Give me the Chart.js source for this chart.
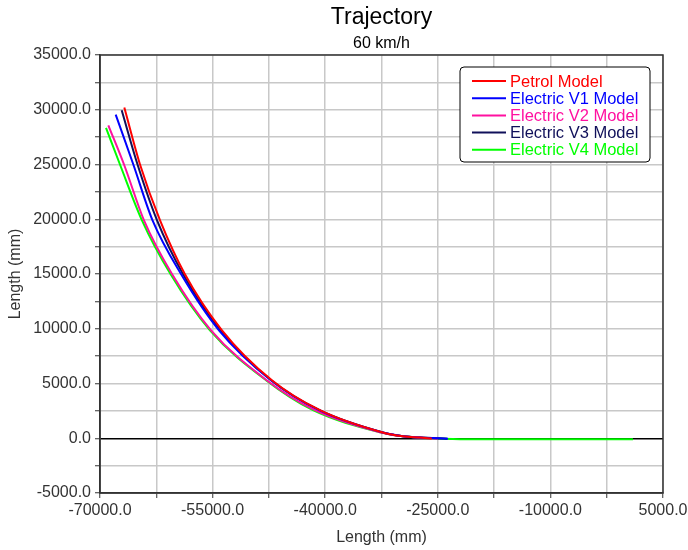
<!DOCTYPE html>
<html>
<head>
<meta charset="utf-8">
<script src="https://cdn.jsdelivr.net/npm/chart.js@4.4.0/dist/chart.umd.min.js"></script>
<style>
  html, body { margin: 0; padding: 0; background: #fff; }
  #wrap { width: 688px; height: 550px; }
</style>
</head>
<body>
<div id="wrap"><canvas id="trajChart" width="688" height="550"></canvas></div>
<script>
// Values (mm)
const seriesNames = ['Petrol Model', 'Electric V1 Model', 'Electric V2 Model', 'Electric V3 Model', 'Electric V4 Model'];
const seriesColors = ['#ff0000', '#0000ff', '#ff10a0', '#10105a', '#00ff00'];

const petrolX = [-66760, -64670, -62000, -58700, -53750, -47100, -40700, -32440, -29640, -27380, -25800];
const petrolY = [30200, 25000, 19900, 15000, 9860, 5300, 2560, 550, 180, 60, -30];

const v1X = [-67910, -65560, -63000, -59210, -54150, -47220, -40830, -32440, -29640, -27380, -23650];
const v1Y = [29560, 25000, 19900, 15000, 9860, 5300, 2560, 550, 180, 60, -40];

const v2X = [-68890, -66800, -64140, -60410, -55210, -47800, -41360, -32700, -29640, -27380, -25000];
const v2Y = [28580, 25000, 19900, 15000, 9860, 5300, 2560, 550, 180, 60, -40];

const v3X = [-67110, -65000, -62400, -58950, -53950, -47200, -40750, -32440, -29640, -27380, -23780];
const v3Y = [29950, 25000, 19900, 15000, 9860, 5300, 2560, 550, 180, 60, -40];

const v4X = [-69200, -67340, -64410, -60610, -55350, -47890, -41630, -32700, -29640, -27380, -22000, 1000];
const v4Y = [28340, 25000, 19900, 15000, 9860, 5300, 2560, 550, 180, 60, -80, -80];

const xTickMin = -70000, xTickMax = 5000, xStep = 7500, xLabelStep = 15000;
const yTickMin = -5000, yTickMax = 35000, yStep = 2500, yLabelStep = 5000;

const allX = [petrolX, v1X, v2X, v3X, v4X];
const allY = [petrolY, v1Y, v2Y, v3Y, v4Y];

const FONT = "'Liberation Sans', Arial, sans-serif";

function toPoints(xs, ys) {
    return xs.map((x, i) => ({ x: x, y: ys[i] }));
}

const datasets = seriesNames.map((name, i) => ({
    label: name,
    data: toPoints(allX[i], allY[i]),
    borderColor: seriesColors[i],
    backgroundColor: seriesColors[i],
    borderWidth: 2,
    pointRadius: 0,
    showLine: true,
    fill: false,
    cubicInterpolationMode: 'monotone'
}));

// Titles, frame and the boxed legend inside the plot
const decorPlugin = {
    id: 'decor',
    afterDraw(chart) {
        const ctx = chart.ctx;
        const a = chart.chartArea;
        ctx.save();

        // frame
        ctx.strokeStyle = '#333';
        ctx.lineWidth = 1.5;
        ctx.strokeRect(a.left, a.top, a.right - a.left, a.bottom - a.top);

        // title + subtitle centred on the plot
        const cx = (a.left + a.right) / 2;
        ctx.fillStyle = '#000';
        ctx.textAlign = 'center';
        ctx.textBaseline = 'alphabetic';
        ctx.font = '23px ' + FONT;
        ctx.fillText('Trajectory', cx, 24);
        ctx.font = '16px ' + FONT;
        ctx.fillText('60 km/h', cx, 48);

        // legend
        const bw = 190, bh = 95;
        const bx = a.right - 13 - bw, by = a.top + 12;
        ctx.beginPath();
        ctx.roundRect(bx, by, bw, bh, 4);
        ctx.fillStyle = '#fff';
        ctx.fill();
        ctx.strokeStyle = '#000';
        ctx.lineWidth = 1;
        ctx.stroke();
        ctx.font = '16.5px ' + FONT;
        ctx.textAlign = 'left';
        ctx.textBaseline = 'middle';
        seriesNames.forEach((name, i) => {
            const ry = by + 14 + i * 17.2;
            ctx.strokeStyle = seriesColors[i];
            ctx.lineWidth = 2;
            ctx.beginPath();
            ctx.moveTo(bx + 12, ry);
            ctx.lineTo(bx + 46, ry);
            ctx.stroke();
            ctx.fillStyle = seriesColors[i];
            ctx.fillText(name, bx + 50, ry + 1);
        });
        ctx.restore();
    }
};

new Chart(document.getElementById('trajChart'), {
    type: 'scatter',
    data: { datasets: datasets },
    options: {
        responsive: false,
        animation: false,
        layout: { padding: { top: 55, right: 25, left: 0, bottom: 0 } },
        plugins: {
            legend: { display: false },
            tooltip: { enabled: false }
        },
        scales: {
            x: {
                type: 'linear',
                min: xTickMin,
                max: xTickMax,
                afterFit(scale) {
                    scale.height = 57;
                    scale.paddingLeft = 0;
                    scale.paddingRight = 0;
                },
                ticks: {
                    stepSize: xStep,
                    autoSkip: false,
                    maxRotation: 0,
                    padding: 3,
                    color: '#333',
                    font: { family: FONT, size: 16 },
                    callback: (v) => ((v - xTickMin) % xLabelStep === 0 ? v.toFixed(1) : '')
                },
                grid: { color: '#c8c8c8', lineWidth: 1.5, tickLength: 5, tickColor: '#333', tickWidth: 1 },
                border: { color: '#333', width: 1.5 },
                title: { display: true, text: 'Length (mm)', color: '#333', font: { family: FONT, size: 16 }, padding: { top: 2, bottom: 3 } }
            },
            y: {
                type: 'linear',
                min: yTickMin,
                max: yTickMax,
                afterFit(scale) {
                    scale.width = 100;
                    scale.paddingTop = 0;
                    scale.paddingBottom = 0;
                },
                ticks: {
                    stepSize: yStep,
                    autoSkip: false,
                    padding: 4,
                    color: '#333',
                    font: { family: FONT, size: 16 },
                    callback: (v) => (v % yLabelStep === 0 ? v.toFixed(1) : '')
                },
                grid: {
                    color: (c) => (c.tick && c.tick.value === 0 ? '#000' : '#c8c8c8'),
                    lineWidth: 1.5,
                    tickLength: 5, tickColor: '#333', tickWidth: 1
                },
                border: { color: '#333', width: 1.5 },
                title: { display: true, text: 'Length (mm)', color: '#333', font: { family: FONT, size: 16 }, padding: { top: 6, bottom: 2 } }
            }
        }
    },
    plugins: [decorPlugin]
});
</script>
</body>
</html>
